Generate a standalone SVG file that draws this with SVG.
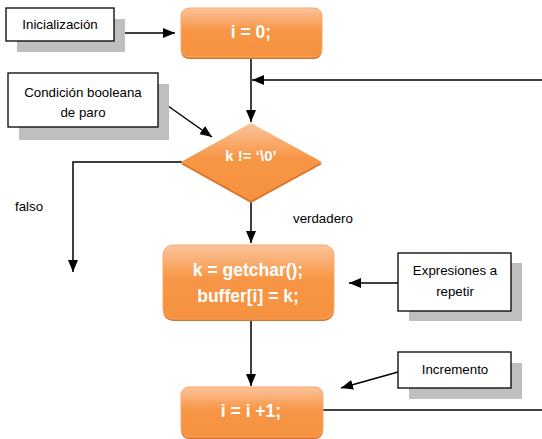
<svg xmlns="http://www.w3.org/2000/svg" width="542" height="439" viewBox="0 0 542 439">
<style>
.lbl{font-family:"Liberation Sans",Arial,sans-serif;font-size:13.3px;fill:#000;}
.box{fill:#fff;stroke:#000;stroke-width:1.3;}
.shd{fill:#BFBFBF;}
.proc{fill:url(#og);stroke:#F9A868;stroke-width:1;}
.procb{fill:#D9722A;}
.pt{font-family:"Liberation Sans",Arial,sans-serif;font-weight:bold;font-size:17.5px;fill:#fff;text-anchor:middle;}
.ln{fill:none;stroke:#000;stroke-width:1.5;}
</style>
<defs>
<linearGradient id="og" x1="0" y1="0" x2="0" y2="1">
<stop offset="0" stop-color="#FBC49B"/>
<stop offset="0.45" stop-color="#F79646"/>
<stop offset="1" stop-color="#F6923F"/>
</linearGradient>
<marker id="ah" viewBox="0 0 12 10" refX="12" refY="5" markerWidth="12" markerHeight="10" markerUnits="userSpaceOnUse" orient="auto">
<path d="M0,0 L12,5 L0,10 Z" fill="#000"/>
</marker>
</defs>

<g id="connectors">
<line class="ln" x1="125" y1="33" x2="175" y2="33" marker-end="url(#ah)"/>
<line class="ln" x1="251" y1="57" x2="251" y2="122" marker-end="url(#ah)"/>
<line class="ln" x1="542" y1="80" x2="252" y2="80" marker-end="url(#ah)" stroke="#222"/>
<line class="ln" x1="168" y1="106" x2="212" y2="137" marker-end="url(#ah)"/>
<polyline class="ln" points="182,162 73,162 73,272" marker-end="url(#ah)"/>
<line class="ln" x1="251" y1="202" x2="251" y2="243" marker-end="url(#ah)"/>
<line class="ln" x1="398" y1="283" x2="349" y2="283" marker-end="url(#ah)"/>
<line class="ln" x1="251" y1="320" x2="251" y2="386" marker-end="url(#ah)"/>
<line class="ln" x1="398" y1="372" x2="341" y2="388" marker-end="url(#ah)"/>
<line class="ln" x1="323" y1="410" x2="542" y2="410"/>
</g>

<g id="inicializacion">
<rect class="shd" x="17" y="19" width="108" height="33"/>
<rect class="box" x="6" y="8" width="108" height="33"/>
<text class="lbl" x="60" y="29" text-anchor="middle">Inicialización</text>
</g>

<g id="i0">
<rect class="procb" x="181" y="10" width="141" height="49" rx="8"/>
<rect class="proc" x="181" y="8" width="141" height="49" rx="8"/>
<text class="pt" x="251" y="38">i = 0;</text>
</g>

<g id="condicion">
<rect class="shd" x="19" y="84" width="150" height="56"/>
<rect class="box" x="8" y="73" width="150" height="54"/>
<text class="lbl" x="83" y="97" text-anchor="middle">Condición booleana</text>
<text class="lbl" x="83" y="117" text-anchor="middle">de paro</text>
</g>

<g id="decision">
<polygon points="251,125 322,164 251,203 181,164" fill="#D9722A"/>
<polygon points="251,123 322,162 251,201 181,162" fill="url(#og)"/>
<text class="pt" x="251" y="161" style="font-size:15px">k != ‘\0’</text>
</g>

<g id="labels">
<text class="lbl" x="15" y="211">falso</text>
<text class="lbl" x="293" y="223">verdadero</text>
</g>

<g id="cuerpo">
<rect class="procb" x="163" y="247" width="171" height="74" rx="10"/>
<rect class="proc" x="163" y="245" width="171" height="74" rx="10"/>
<text class="pt" x="248" y="276">k = getchar();</text>
<text class="pt" x="248" y="302">buffer[i] = k;</text>
</g>

<g id="expresiones">
<rect class="shd" x="409" y="263" width="113" height="58"/>
<rect class="box" x="398" y="253" width="113" height="58"/>
<text class="lbl" x="455" y="275" text-anchor="middle">Expresiones a</text>
<text class="lbl" x="455" y="296" text-anchor="middle">repetir</text>
</g>

<g id="incremento">
<rect class="shd" x="409" y="363" width="113" height="36"/>
<rect class="box" x="398" y="352" width="113" height="36"/>
<text class="lbl" x="455" y="374" text-anchor="middle">Incremento</text>
</g>

<g id="inc">
<rect class="procb" x="181" y="389" width="142" height="50" rx="8"/>
<rect class="proc" x="181" y="387" width="142" height="50" rx="8"/>
<text class="pt" x="251" y="417">i = i +1;</text>
</g>
</svg>
